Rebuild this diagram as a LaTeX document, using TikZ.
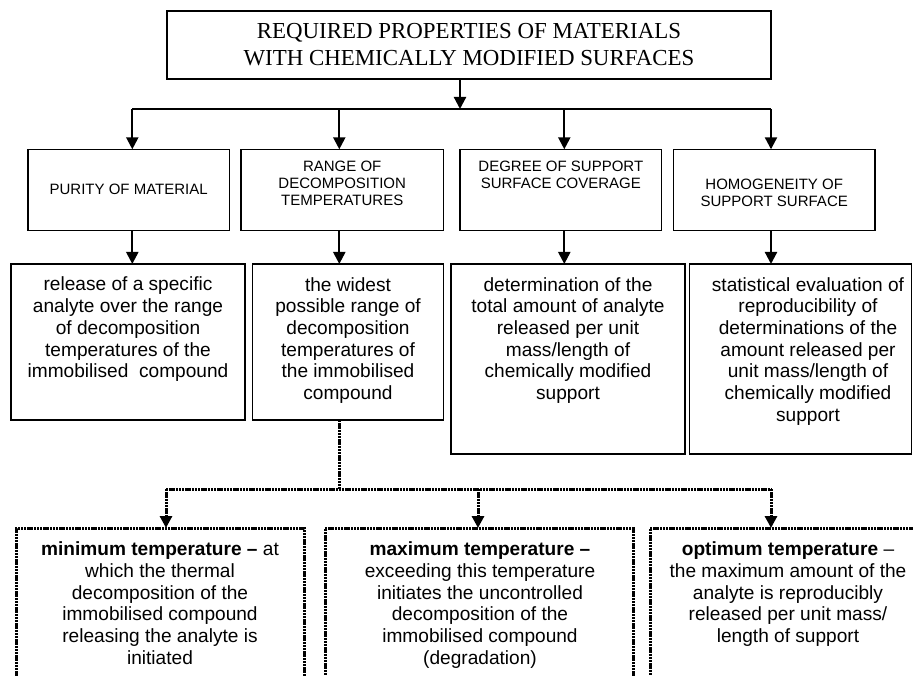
\documentclass[tikz,border=0pt]{standalone}
\usepackage{fontspec}
\setmainfont{Liberation Serif}
\newfontfamily\arialfont{Liberation Sans}
\usetikzlibrary{arrows.meta}
\begin{document}
\begin{tikzpicture}[x=1pt,y=-1pt,
 box/.style={draw=black, line width=1.3pt, rectangle, inner sep=0pt, outer sep=0pt, anchor=north west},
 dbox/.style={draw=black, line width=3pt, dash pattern=on 2.4pt off 0.8pt, rectangle, inner sep=0pt, outer sep=0pt, anchor=north west},
 arr/.style={line width=2.2pt, -{Triangle[length=12pt,width=12pt]}},
 darr/.style={line width=3pt, dash pattern=on 2.4pt off 0.8pt, -{Triangle[length=12pt,width=12pt]}},
 bus/.style={line width=1.4pt},
 dbus/.style={line width=3pt, dash pattern=on 2.4pt off 0.8pt},
 ttl/.style={font=\fontsize{22.9}{27.4}\selectfont, align=center, inner sep=0pt, anchor=base},
 hdr/.style={font=\arialfont\fontsize{15}{17.15}\selectfont, align=center, inner sep=0pt, anchor=base},
 txt/.style={font=\arialfont\fontsize{19.1}{21.7}\selectfont, align=center, inner sep=0pt, anchor=base}]
\useasboundingbox (0,0) rectangle (913,676);
\clip (0,0) rectangle (913,676);

% top box
\node[box, minimum width=604pt, minimum height=68pt] (top) at (167,11) {};
\node[ttl] (toptxt) at (469,65.7) {REQUIRED PROPERTIES OF MATERIALS\\WITH CHEMICALLY MODIFIED SURFACES};

% header boxes
\node[box, minimum width=201.3pt, minimum height=81.4pt] (h1) at (28,149.3) {};
\node[box, minimum width=202.3pt, minimum height=81.4pt] (h2) at (241,149.3) {};
\node[box, minimum width=201.7pt, minimum height=81.4pt] (h3) at (460,149.3) {};
\node[box, minimum width=201.7pt, minimum height=81.4pt] (h4) at (673.3,149.3) {};
\node[hdr] (h1t) at (128.7,194.3) {PURITY OF MATERIAL};
\node[hdr] (h2t) at (342.2,206) {RANGE OF\\DECOMPOSITION\\TEMPERATURES};
\node[hdr] (h3t) at (560.8,189) {DEGREE OF SUPPORT\\SURFACE COVERAGE};
\node[hdr] (h4t) at (774.2,206.7) {HOMOGENEITY OF\\SUPPORT SURFACE};

% content boxes
\node[box, minimum width=234pt, minimum height=156pt] (c1) at (11,264) {};
\node[box, minimum width=190.6pt, minimum height=156pt] (c2) at (252.7,264) {};
\node[box, minimum width=234pt, minimum height=190pt] (c3) at (451,264) {};
\node[box, minimum width=222.4pt, minimum height=190pt] (c4) at (689.3,264) {};
\node[txt] (c1t) at (128,377.8) {release of a specific\\analyte over the range\\of decomposition\\temperatures of the\\immobilised\ \ compound};
\node[txt] (c2t) at (348,399.5) {the widest\\possible range of\\decomposition\\temperatures of\\the immobilised\\compound};
\node[txt] (c3t) at (568,399.5) {determination of the\\total amount of analyte\\released per unit\\mass/length of\\chemically modified\\support};
\node[txt] (c4t) at (808,421.2) {statistical evaluation of\\reproducibility of\\determinations of the\\amount released per\\unit mass/length of\\chemically modified\\support};

% dotted boxes
\node[dbox, minimum width=288pt, minimum height=180pt] (d1) at (16,528) {};
\node[dbox, minimum width=308pt, minimum height=180pt] (d2) at (325,528) {};
\node[dbox, minimum width=276pt, minimum height=180pt] (d3) at (650,528) {};
\node[txt] (d1t) at (160,664.2) {\textbf{minimum temperature –} at\\which the thermal\\decomposition of the\\immobilised compound\\releasing the analyte is\\initiated};
\node[txt] (d2t) at (480,664.2) {\textbf{maximum temperature –}\\exceeding this temperature\\initiates the uncontrolled\\decomposition of the\\immobilised compound\\(degradation)};
\node[txt] (d3t) at (788,642.5) {\textbf{optimum temperature} –\\the maximum amount of the\\analyte is reproducibly\\released per unit mass/\\length of support};

% solid connectors
\coordinate (b0) at (460,109);
\coordinate (b1) at (132.3,109);
\coordinate (b2) at (339.3,109);
\coordinate (b3) at (564.3,109);
\coordinate (b4) at (771,109);
\draw[arr] (top.south -| b0) -- (b0);
\draw[bus] (b1) -- (b4);
\draw[arr] (b1) -- (h1.north -| b1);
\draw[arr] (b2) -- (h2.north -| b2);
\draw[arr] (b3) -- (h3.north -| b3);
\draw[arr] (b4) -- (h4.north -| b4);
\draw[arr] (h1.south -| b1) -- (c1.north -| b1);
\draw[arr] (h2.south -| b2) -- (c2.north -| b2);
\draw[arr] (h3.south -| b3) -- (c3.north -| b3);
\draw[arr] (h4.south -| b4) -- (c4.north -| b4);

% dotted connectors
\coordinate (e0) at (339.3,489);
\coordinate (e1) at (166,489);
\coordinate (e2) at (478,489);
\coordinate (e3) at (771,489);
\draw[dbus] (c2.south -| e0) -- (e0);
\draw[dbus] (e1) -- (e3);
\draw[darr] (e1) -- (d1.north -| e1);
\draw[darr] (e2) -- (d2.north -| e2);
\draw[darr] (e3) -- (d3.north -| e3);
\end{tikzpicture}
\end{document}
